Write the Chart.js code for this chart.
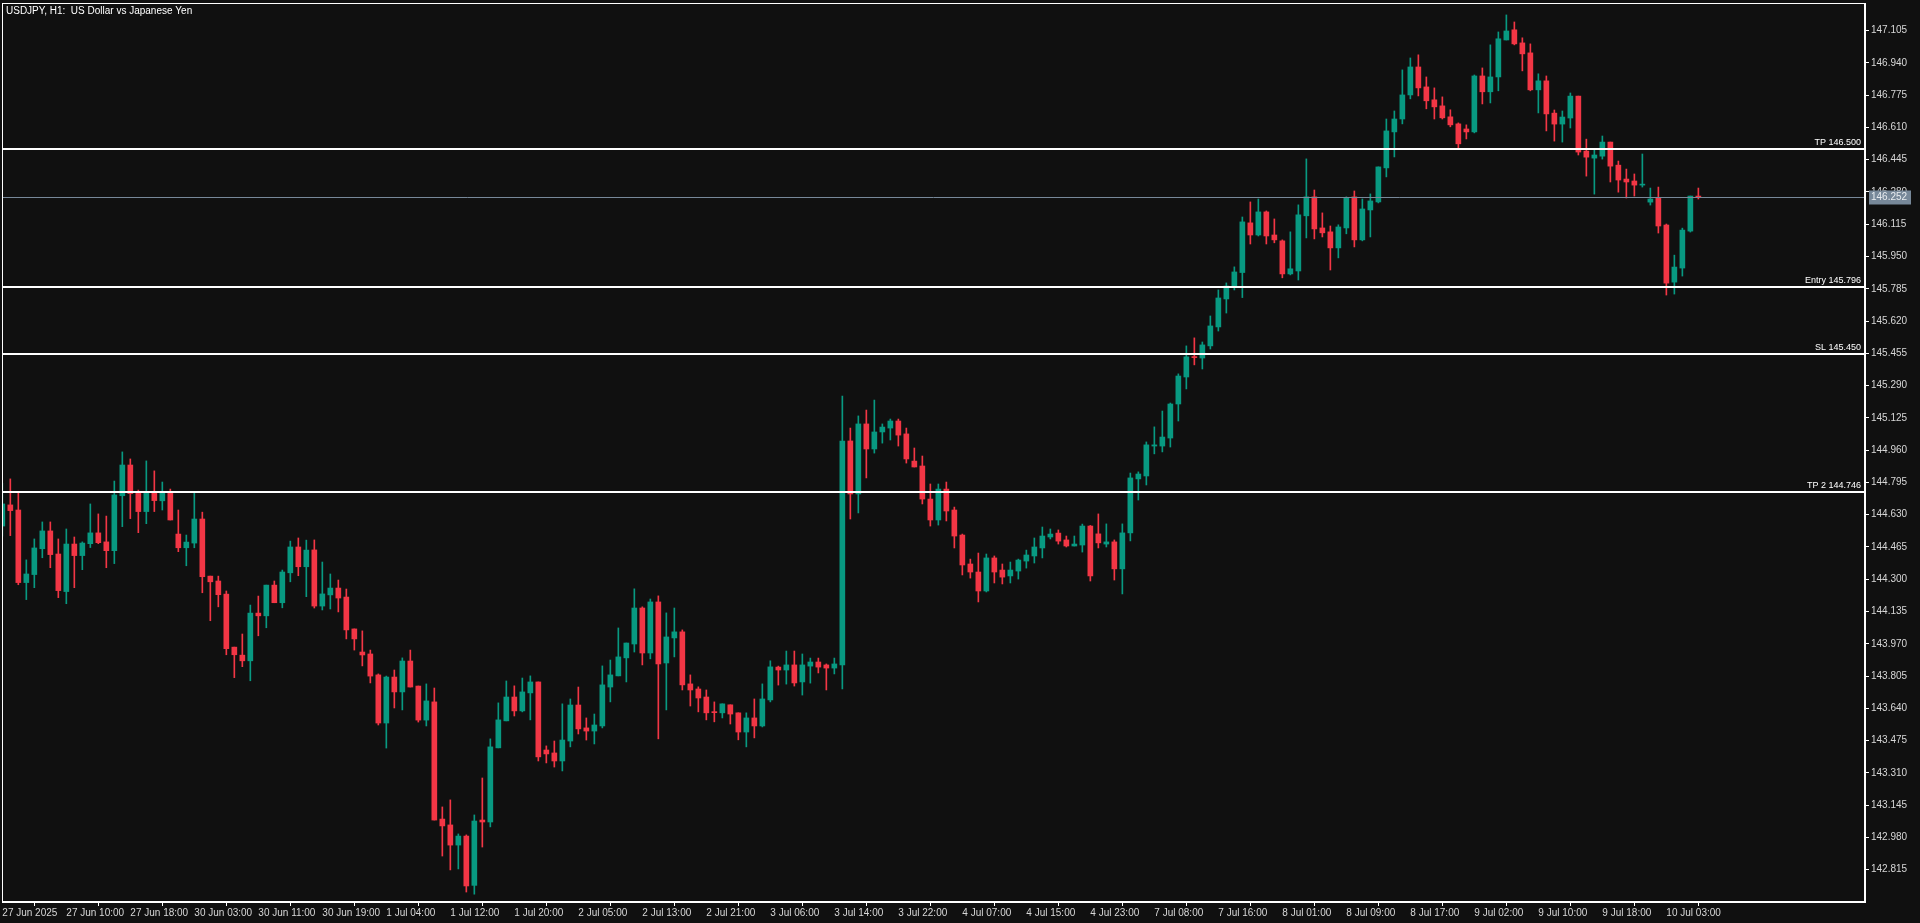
<!DOCTYPE html>
<html>
<head>
<meta charset="utf-8">
<title>USDJPY H1</title>
<script src="https://cdn.jsdelivr.net/npm/chart.js@4.4.1/dist/chart.umd.min.js"></script>
<style>
  html, body { margin: 0; padding: 0; background: #101010; overflow: hidden; }
  #wrap { width: 1920px; height: 923px; }
</style>
</head>
<body>
<div id="wrap"><canvas id="chart" width="1920" height="923"></canvas></div>
<script>
const symbolTitle = 'USDJPY, H1:  US Dollar vs Japanese Yen';

// time labels, one every 8 bars
const tickLabels = [
  '27 Jun 2025', '27 Jun 10:00', '27 Jun 18:00', '30 Jun 03:00', '30 Jun 11:00', '30 Jun 19:00',
  '1 Jul 04:00', '1 Jul 12:00', '1 Jul 20:00', '2 Jul 05:00', '2 Jul 13:00', '2 Jul 21:00',
  '3 Jul 06:00', '3 Jul 14:00', '3 Jul 22:00', '4 Jul 07:00', '4 Jul 15:00', '4 Jul 23:00',
  '7 Jul 08:00', '7 Jul 16:00', '8 Jul 01:00', '8 Jul 09:00', '8 Jul 17:00', '9 Jul 02:00',
  '9 Jul 10:00', '9 Jul 18:00', '10 Jul 03:00'
];

const yTickValues = [
  147.105, 146.940, 146.775, 146.610, 146.445, 146.280, 146.115, 145.950, 145.785,
  145.620, 145.455, 145.290, 145.125, 144.960, 144.795, 144.630, 144.465, 144.300,
  144.135, 143.970, 143.805, 143.640, 143.475, 143.310, 143.145, 142.980, 142.815
];

const openPrices = [
  144.572, 144.680, 144.654, 144.283, 144.324, 144.456, 144.547, 144.429, 144.237, 144.480,
  144.421, 144.482, 144.537, 144.491, 144.446, 144.727, 144.884, 144.748, 144.646, 144.748,
  144.701, 144.742, 144.531, 144.461, 144.485, 144.608, 144.316, 144.291, 144.224, 143.953,
  143.912, 143.883, 144.127, 144.113, 144.270, 144.180, 144.333, 144.465, 144.364, 144.450,
  144.163, 144.220, 144.255, 144.209, 144.046, 143.928, 143.918, 143.811, 143.565, 143.800,
  143.724, 143.882, 143.754, 143.580, 143.673, 143.074, 143.044, 142.941, 142.987, 142.735,
  143.069, 143.059, 143.438, 143.576, 143.698, 143.627, 143.719, 143.775, 143.427, 143.412,
  143.371, 143.473, 143.657, 143.540, 143.524, 143.550, 143.749, 143.806, 143.898, 143.969,
  144.153, 143.923, 144.184, 143.872, 144.000, 144.031, 143.765, 143.739, 143.698, 143.622,
  143.617, 143.658, 143.617, 143.519, 143.591, 143.550, 143.683, 143.851, 143.836, 143.862,
  143.775, 143.856, 143.877, 143.862, 143.846, 143.862, 145.007, 144.736, 145.094, 144.966,
  145.053, 145.073, 145.109, 145.043, 144.904, 144.879, 144.710, 144.603, 144.761, 144.654,
  144.526, 144.378, 144.337, 144.240, 144.409, 144.347, 144.317, 144.342, 144.393, 144.419,
  144.460, 144.516, 144.536, 144.501, 144.470, 144.475, 144.572, 144.532, 144.480, 144.491,
  144.353, 144.537, 144.813, 144.828, 144.981, 144.981, 145.022, 145.196, 145.334, 145.438,
  145.431, 145.493, 145.590, 145.733, 145.799, 145.868, 146.122, 146.060, 146.178, 146.060,
  146.030, 145.861, 145.876, 146.158, 146.255, 146.096, 146.076, 145.994, 146.096, 146.255,
  146.035, 146.188, 146.229, 146.403, 146.587, 146.653, 146.776, 146.919, 146.817, 146.751,
  146.720, 146.664, 146.628, 146.602, 146.587, 146.873, 146.792, 146.868, 147.057, 147.109,
  147.042, 146.991, 146.802, 146.848, 146.683, 146.627, 146.658, 146.770, 146.489, 146.453,
  146.463, 146.535, 146.417, 146.346, 146.336, 146.315, 146.228, 146.249, 146.111, 145.819,
  145.891, 146.080, 146.259
];

const highPrices = [
  144.790, 144.813, 144.743, 144.399, 144.506, 144.593, 144.593, 144.506, 144.557, 144.516,
  144.491, 144.685, 144.634, 144.623, 144.802, 144.951, 144.915, 144.756, 144.905, 144.854,
  144.797, 144.761, 144.654, 144.526, 144.742, 144.643, 144.316, 144.316, 144.240, 143.953,
  144.020, 144.168, 144.214, 144.270, 144.291, 144.347, 144.495, 144.511, 144.500, 144.501,
  144.388, 144.327, 144.296, 144.250, 144.046, 144.036, 143.938, 143.816, 143.805, 143.836,
  143.898, 143.938, 143.754, 143.765, 143.744, 143.136, 143.172, 142.998, 142.993, 143.095,
  143.284, 143.484, 143.668, 143.780, 143.755, 143.795, 143.806, 143.775, 143.448, 143.473,
  143.663, 143.688, 143.749, 143.591, 143.611, 143.857, 143.887, 144.051, 143.974, 144.251,
  144.159, 144.199, 144.215, 144.128, 144.153, 144.041, 143.811, 143.750, 143.734, 143.673,
  143.663, 143.658, 143.617, 143.617, 143.688, 143.765, 143.883, 143.856, 143.933, 143.933,
  143.918, 143.897, 143.897, 143.867, 143.897, 145.237, 145.073, 145.135, 145.165, 145.216,
  145.094, 145.119, 145.119, 145.073, 144.971, 144.930, 144.787, 144.787, 144.797, 144.669,
  144.531, 144.403, 144.434, 144.429, 144.419, 144.378, 144.388, 144.403, 144.449, 144.511,
  144.567, 144.557, 144.552, 144.521, 144.521, 144.582, 144.575, 144.634, 144.583, 144.501,
  144.583, 144.843, 144.849, 145.002, 145.079, 145.160, 145.201, 145.350, 145.493, 145.534,
  145.513, 145.646, 145.779, 145.815, 145.897, 146.152, 146.229, 146.244, 146.183, 146.142,
  146.035, 146.076, 146.214, 146.449, 146.290, 146.173, 146.106, 146.112, 146.255, 146.285,
  146.244, 146.270, 146.408, 146.653, 146.694, 146.904, 146.965, 146.981, 146.868, 146.812,
  146.766, 146.700, 146.633, 146.623, 146.878, 146.914, 147.032, 147.098, 147.185, 147.149,
  147.068, 147.037, 146.884, 146.873, 146.699, 146.694, 146.786, 146.770, 146.550, 146.494,
  146.566, 146.535, 146.438, 146.397, 146.372, 146.474, 146.300, 146.305, 146.116, 145.957,
  146.095, 146.259, 146.300
];

const lowPrices = [
  144.520, 144.523, 144.272, 144.196, 144.257, 144.410, 144.359, 144.206, 144.175, 144.257,
  144.349, 144.462, 144.482, 144.359, 144.380, 144.569, 144.610, 144.538, 144.584, 144.646,
  144.654, 144.603, 144.441, 144.369, 144.461, 144.231, 144.088, 144.159, 143.914, 143.797,
  143.853, 143.781, 144.011, 144.052, 144.180, 144.154, 144.287, 144.318, 144.211, 144.153,
  144.143, 144.148, 144.133, 143.995, 143.938, 143.857, 143.770, 143.555, 143.437, 143.642,
  143.632, 143.749, 143.570, 143.550, 143.069, 142.885, 142.814, 142.819, 142.701, 142.690,
  142.931, 143.034, 143.438, 143.576, 143.601, 143.622, 143.581, 143.371, 143.361, 143.340,
  143.320, 143.443, 143.509, 143.478, 143.458, 143.540, 143.673, 143.806, 143.775, 143.928,
  143.862, 143.893, 143.484, 143.632, 143.903, 143.734, 143.652, 143.622, 143.581, 143.571,
  143.591, 143.560, 143.479, 143.443, 143.489, 143.545, 143.673, 143.759, 143.764, 143.754,
  143.708, 143.769, 143.821, 143.734, 143.816, 143.739, 144.608, 144.639, 144.818, 144.945,
  144.996, 145.012, 144.981, 144.894, 144.874, 144.685, 144.572, 144.577, 144.598, 144.460,
  144.322, 144.306, 144.184, 144.235, 144.281, 144.276, 144.281, 144.301, 144.357, 144.383,
  144.409, 144.506, 144.480, 144.465, 144.470, 144.439, 144.291, 144.460, 144.465, 144.296,
  144.225, 144.496, 144.705, 144.782, 144.941, 144.951, 144.976, 145.109, 145.273, 145.396,
  145.375, 145.477, 145.569, 145.661, 145.779, 145.740, 146.014, 146.055, 146.014, 146.020,
  145.841, 145.856, 145.830, 146.045, 146.040, 146.050, 145.881, 145.943, 146.066, 145.999,
  146.030, 146.050, 146.224, 146.357, 146.459, 146.628, 146.756, 146.771, 146.705, 146.653,
  146.653, 146.613, 146.505, 146.551, 146.582, 146.730, 146.735, 146.797, 147.057, 147.032,
  146.899, 146.797, 146.684, 146.592, 146.540, 146.535, 146.607, 146.469, 146.361, 146.269,
  146.448, 146.331, 146.279, 146.249, 146.259, 146.305, 146.213, 146.070, 145.753, 145.758,
  145.850, 146.075, 146.244
];

const closePrices = [
  144.685, 144.651, 144.283, 144.327, 144.460, 144.547, 144.426, 144.242, 144.480, 144.421,
  144.485, 144.537, 144.487, 144.446, 144.731, 144.884, 144.738, 144.646, 144.748, 144.702,
  144.742, 144.603, 144.461, 144.490, 144.608, 144.313, 144.287, 144.221, 143.945, 143.914,
  143.883, 144.127, 144.113, 144.270, 144.180, 144.337, 144.465, 144.364, 144.449, 144.163,
  144.225, 144.255, 144.204, 144.041, 143.995, 143.913, 143.805, 143.565, 143.800, 143.724,
  143.882, 143.749, 143.580, 143.678, 143.069, 143.039, 142.941, 142.987, 142.732, 143.064,
  143.059, 143.443, 143.581, 143.698, 143.627, 143.724, 143.775, 143.392, 143.407, 143.371,
  143.478, 143.657, 143.535, 143.524, 143.555, 143.760, 143.811, 143.903, 143.974, 144.153,
  143.923, 144.184, 143.867, 144.005, 144.031, 143.760, 143.734, 143.693, 143.617, 143.618,
  143.663, 143.611, 143.519, 143.591, 143.550, 143.688, 143.852, 143.836, 143.862, 143.770,
  143.862, 143.877, 143.851, 143.846, 143.867, 145.007, 144.736, 145.094, 144.966, 145.053,
  145.078, 145.109, 145.037, 144.915, 144.874, 144.710, 144.603, 144.761, 144.649, 144.521,
  144.373, 144.337, 144.240, 144.409, 144.337, 144.311, 144.347, 144.398, 144.424, 144.465,
  144.521, 144.531, 144.495, 144.470, 144.480, 144.572, 144.317, 144.486, 144.491, 144.353,
  144.537, 144.818, 144.838, 144.987, 144.987, 145.027, 145.196, 145.339, 145.437, 145.433,
  145.498, 145.595, 145.738, 145.799, 145.871, 146.127, 146.060, 146.178, 146.055, 146.035,
  145.861, 145.887, 146.163, 146.255, 146.091, 146.071, 145.994, 146.101, 146.250, 146.035,
  146.193, 146.234, 146.408, 146.592, 146.653, 146.776, 146.919, 146.812, 146.746, 146.715,
  146.659, 146.623, 146.526, 146.587, 146.873, 146.792, 146.868, 147.063, 147.103, 147.037,
  146.986, 146.802, 146.848, 146.679, 146.627, 146.663, 146.770, 146.484, 146.458, 146.469,
  146.535, 146.412, 146.341, 146.331, 146.315, 146.320, 146.244, 146.106, 145.814, 145.896,
  146.085, 146.259, 146.252
];

const levelNames = ['TP', 'Entry', 'SL', 'TP 2'];
const levelPrices = [146.500, 145.796, 145.450, 144.746];
const currentPrice = 146.252;

const bull = '#089981';
const bear = '#f23645';
const fg = '#ffffff';
const font = '"Liberation Sans", Arial, sans-serif';

const candleColors = openPrices.map((o, i) => closePrices[i] >= o ? bull : bear);
const bodies = openPrices.map((o, i) => ({ x: i, y: [o, closePrices[i]] }));
const wicks = lowPrices.map((l, i) => ({ x: i, y: [l, highPrices[i]] }));

// axis labels should not push the plot area inwards
function noPadding(scale) {
  scale.paddingTop = 0;
  scale.paddingBottom = 0;
  scale.paddingLeft = 0;
  scale.paddingRight = 0;
}

const overlay = {
  id: 'overlay',
  beforeDraw(chart) {
    const ctx = chart.ctx;
    ctx.save();
    ctx.fillStyle = '#101010';
    ctx.fillRect(0, 0, chart.width, chart.height);
    ctx.restore();
  },
  afterDatasetsDraw(chart) {
    const { ctx, chartArea: a, scales: { y } } = chart;
    ctx.save();

    // bid line
    const by = Math.round(y.getPixelForValue(currentPrice)) + 0.5;
    ctx.strokeStyle = '#778899';
    ctx.lineWidth = 1;
    ctx.beginPath();
    ctx.moveTo(a.left, by);
    ctx.lineTo(a.right, by);
    ctx.stroke();

    // trade levels
    ctx.strokeStyle = fg;
    ctx.fillStyle = fg;
    ctx.lineWidth = 2;
    ctx.font = '9px ' + font;
    ctx.textAlign = 'right';
    ctx.textBaseline = 'bottom';
    levelNames.forEach((name, k) => {
      const ly = Math.round(y.getPixelForValue(levelPrices[k]));
      ctx.beginPath();
      ctx.moveTo(a.left, ly);
      ctx.lineTo(a.right, ly);
      ctx.stroke();
      ctx.fillText(name + ' ' + levelPrices[k].toFixed(3), a.right - 4, ly - 2);
    });

    // frame
    ctx.lineWidth = 1;
    ctx.strokeRect(a.left + 0.5, a.top + 0.5, a.width - 1, a.height - 1);

    // title
    ctx.font = '10px ' + font;
    ctx.textAlign = 'left';
    ctx.textBaseline = 'middle';
    ctx.fillText(symbolTitle, a.left + 4, a.top + 8);

    // price tag on the axis
    ctx.fillStyle = '#778899';
    ctx.fillRect(a.right + 4, by - 7, 42, 14);
    ctx.fillStyle = '#e8ecf0';
    ctx.fillText(currentPrice.toFixed(3), a.right + 6, by);
    ctx.restore();
  }
};

new Chart(document.getElementById('chart'), {
  type: 'bar',
  data: {
    datasets: [
      {
        label: 'body',
        data: bodies,
        backgroundColor: candleColors,
        barThickness: 5,
        minBarLength: 1,
        grouped: false,
        order: 1,
        clip: 0
      },
      {
        label: 'wick',
        data: wicks,
        backgroundColor: candleColors,
        barThickness: 1,
        grouped: false,
        order: 2,
        clip: 0
      }
    ]
  },
  options: {
    responsive: false,
    animation: false,
    events: [],
    layout: { padding: { left: 2, top: 3, right: 0, bottom: 0 } },
    plugins: { legend: { display: false }, tooltip: { enabled: false } },
    scales: {
      x: {
        type: 'linear',
        min: -0.04,
        max: 232.83,
        offset: false,
        afterBuildTicks: scale => { scale.ticks = tickLabels.map((t, k) => ({ value: k * 8 })); },
        afterFit: scale => { scale.height = 21; noPadding(scale); },
        grid: { drawOnChartArea: false, drawTicks: true, tickLength: 4, color: fg },
        border: { color: fg },
        ticks: {
          autoSkip: false,
          maxRotation: 0,
          align: 'start',
          padding: 1,
          color: '#d8d8d8',
          font: { family: font, size: 10 },
          callback: v => tickLabels[Math.round(v / 8)] || ''
        }
      },
      y: {
        position: 'right',
        min: 142.650,
        max: 147.246,
        afterBuildTicks: scale => { scale.ticks = yTickValues.map(v => ({ value: v })); },
        afterFit: scale => { scale.width = 55; noPadding(scale); },
        grid: { drawOnChartArea: false, drawTicks: true, tickLength: 4, color: fg },
        border: { color: fg },
        ticks: {
          padding: 2,
          color: '#d8d8d8',
          font: { family: font, size: 10 },
          callback: v => Number(v).toFixed(3)
        }
      }
    }
  },
  plugins: [overlay]
});
</script>
</body>
</html>
